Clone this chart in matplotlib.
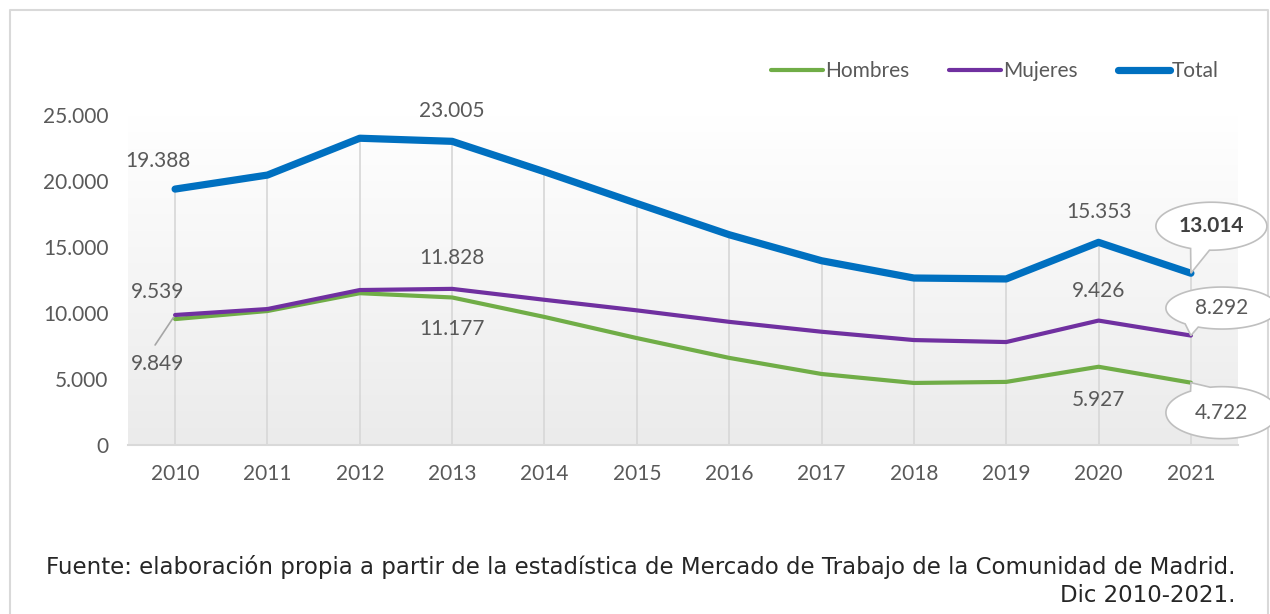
import numpy as np
import matplotlib.pyplot as plt
from matplotlib.patches import Polygon
from matplotlib.lines import Line2D
from matplotlib.colors import LinearSegmentedColormap

years = [2010, 2011, 2012, 2013, 2014, 2015, 2016, 2017, 2018, 2019, 2020, 2021]
hombres = [9539, 10150, 11500, 11177, 9700, 8100, 6600, 5380, 4700, 4780, 5927, 4722]
mujeres = [9849, 10300, 11740, 11828, 11000, 10200, 9330, 8580, 7950, 7800, 9426, 8292]
total = [19388, 20450, 23240, 23005, 20700, 18300, 15930, 13960, 12650, 12580, 15353, 13014]
yticks = [0, 5000, 10000, 15000, 20000, 25000]

GRAY = '#595959'
plt.rcParams['font.family'] = ['Lato', 'DejaVu Sans']

def fmt(v):
    return f"{v:,}".replace(',', '.')

fig = plt.figure(figsize=(12.7, 6.14), dpi=100)
W, H = 1270, 614
ax = fig.add_axes([128 / W, 1 - 445 / H, (1238 - 128) / W, (445 - 115) / H])
ax.set_xlim(2009.49, 2021.51)
ax.set_ylim(0, 25000)

# gradient background of plot area
grad = np.linspace(0, 1, 256).reshape(-1, 1)
ax.imshow(grad, cmap=LinearSegmentedColormap.from_list('g', ['#ffffff', '#ebebeb']),
          extent=[2009.49, 2021.51, 0, 25000], aspect='auto', zorder=0, origin='upper')

for s in ['top', 'right', 'left']:
    ax.spines[s].set_visible(False)
ax.spines['bottom'].set_color('#d9d9d9')
ax.spines['bottom'].set_linewidth(1.5)

# drop lines
ax.vlines(years, 0, total, color='#d9d9d9', lw=1.3, zorder=1)

ax.plot(years, hombres, color='#70ad47', lw=3.0, label='Hombres', solid_capstyle='round', solid_joinstyle='round', zorder=3)
ax.plot(years, mujeres, color='#7030a0', lw=3.0, label='Mujeres', solid_capstyle='round', solid_joinstyle='round', zorder=3)
ax.plot(years, total, color='#0070c0', lw=5.2, label='Total', solid_capstyle='round', solid_joinstyle='round', zorder=3)

ax.set_xticks(years)
ax.set_xticklabels([str(y) for y in years])
ax.set_yticks(yticks)
ax.set_yticklabels([fmt(v) for v in yticks])
ax.tick_params(axis='both', length=0, labelsize=15, labelcolor=GRAY)
ax.tick_params(axis='x', pad=14)
ax.tick_params(axis='y', pad=14)

fig.legend(loc='center', bbox_to_anchor=(995 / W, 1 - 71 / H), ncol=3, frameon=False,
           fontsize=15, labelcolor=GRAY, handlelength=2.5, handletextpad=0.1, columnspacing=1.9)

# plain data labels (pixel offsets)
labels = [
    (2010, total[0], -17, 28), (2013, total[3], 0, 30), (2020, total[10], 0, 30),
    (2013, mujeres[3], 0, 31), (2020, mujeres[10], 0, 30),
    (2013, hombres[3], 0, -32), (2020, hombres[10], 0, -33),
    (2010, hombres[0], -18, 27), (2010, mujeres[0], -18, -49),
]
for x, v, dx, dy in labels:
    ax.annotate(fmt(v), (x, v), xytext=(dx, dy), textcoords='offset pixels',
                ha='center', va='center', fontsize=15, color=GRAY, zorder=5)
# leader line for 2010 Mujeres label
ax.annotate('', (2010, mujeres[0]), xytext=(-20, -30), textcoords='offset pixels',
            arrowprops=dict(arrowstyle='-', color='#a6a6a6', lw=1.2, shrinkA=0, shrinkB=2))

# callouts at 2021
def callout(x, v, cdx, cdy, t1, t2, text, a, b, bold=False):
    px, py = ax.transData.transform((x, v))
    cx, cy = px + cdx, py + cdy
    ts = np.radians(np.linspace(t2, t1 + 360, 160))
    pts = np.column_stack([cx + a * np.cos(ts), cy + b * np.sin(ts)])
    pts = np.vstack([pts, [[px, py]]])
    dpts = ax.transData.inverted().transform(pts)
    ax.add_patch(Polygon(dpts, closed=True, facecolor='white', edgecolor='#bfbfbf',
                         lw=1.2, clip_on=False, zorder=6))
    tx, ty = ax.transData.inverted().transform((cx, cy))
    ax.text(tx, ty, text, ha='center', va='center', fontsize=15, color='#404040' if bold else GRAY,
            fontweight='bold' if bold else 'normal', zorder=7, clip_on=False)

callout(2021, total[11], 20.5, 47, 248, 268, fmt(total[11]), 55.5, 24, bold=True)
callout(2021, mujeres[11], 31, 27.5, 229, 245, fmt(mujeres[11]), 56, 21)
callout(2021, hombres[11], 31, -30, 102, 124, fmt(hombres[11]), 56, 26)

# outer border
border = [(10, 614), (10, 10), (1268, 10), (1268, 614)]
bx = [p[0] / W for p in border]
by = [1 - p[1] / H for p in border]
fig.add_artist(Line2D(bx, by, color='#d9d9d9', lw=1.5, transform=fig.transFigure, zorder=-1))

fig.text(1236 / W, 1 - 567 / H,
         'Fuente: elaboración propia a partir de la estadística de Mercado de Trabajo de la Comunidad de Madrid.',
         ha='right', va='center', fontsize=16.5, color='#262626', family=['DejaVu Sans'])
fig.text(1236 / W, 1 - 595 / H, 'Dic 2010-2021.', ha='right', va='center', fontsize=16.5,
         color='#262626', family=['DejaVu Sans'])

fig.savefig('out.png', dpi=100)
